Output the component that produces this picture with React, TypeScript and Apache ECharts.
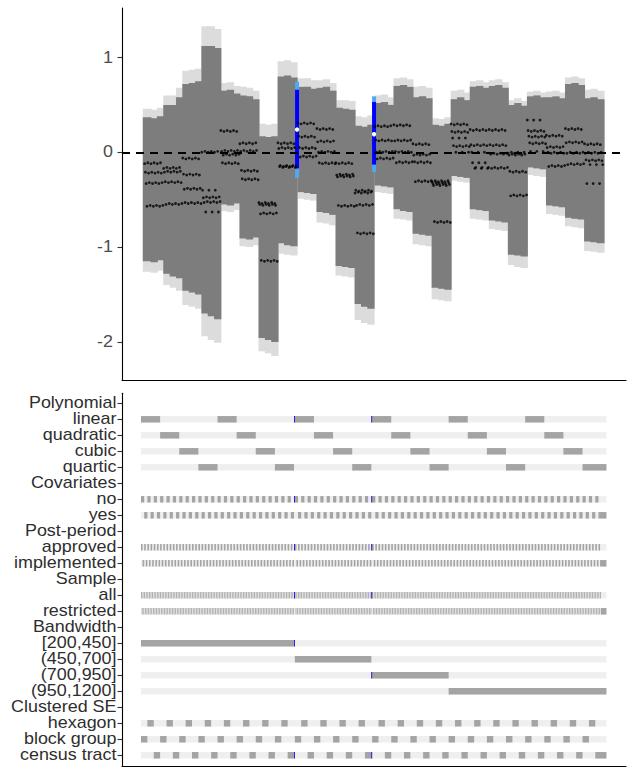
import React, { useEffect, useRef } from "react";
import * as echarts from "echarts";

// ---------- categories ----------
const ROW_LABELS = [
  "Polynomial", "linear", "quadratic", "cubic", "quartic",
  "Covariates", "no", "yes",
  "Post-period", "approved", "implemented",
  "Sample", "all", "restricted",
  "Bandwidth", "[200,450]", "(450,700]", "(700,950]", "(950,1200]",
  "Clustered SE", "hexagon", "block group", "census tract",
];
const HEADER_ROWS = [0, 5, 8, 11, 14, 19];
const POLY_ROWS = [1, 2, 3, 4];
const COV_ROWS = [6, 7];
const POST_ROWS = [9, 10];
const SAMPLE_ROWS = [12, 13];
// clustered SE order inside each polynomial block: block group, hexagon, census tract
const SE_ROWS = [21, 20, 22];
// bandwidth category of each of the six bandwidth blocks
const BW_BLOCK_ROW = [15, 15, 16, 17, 18, 18];
const Y_TICKS = [-2, -1, 0, 1];

// ---------- estimates: 24 polynomial blocks x 8 (cov x post x sample) ----------
const ESTIMATES: number[][] = [
  [-0.12, -0.21, -0.33, -0.57, -0.11, -0.22, -0.32, -0.56],
  [-0.17, -0.21, -0.31, -0.55, -0.16, -0.2, -0.32, -0.54],
  [-0.06, -0.23, -0.39, -0.53, -0.07, -0.24, -0.38, -0.54],
  [0.0, -0.4, -0.48, -0.53, 0.01, -0.63, -0.47, -0.52],
  [0.23, 0.01, -0.11, -0.03, 0.22, 0.02, -0.12, -0.02],
  [0.09, 0.01, -0.19, -0.28, 0.1, 0.02, -0.2, -0.29],
  [-0.53, -0.55, -0.65, -1.14, -0.54, -0.56, -0.64, -1.15],
  [0.1, 0.04, -0.15, -0.14, 0.09, 0.05, -0.16, -0.15],
  [0.31, 0.17, 0.05, -0.05, 0.3, 0.16, 0.04, -0.04],
  [0.25, 0.11, 0.0, -0.11, 0.24, 0.12, 0.01, -0.12],
  [-0.11, -0.24, -0.26, -0.56, -0.12, -0.23, -0.25, -0.57],
  [-0.43, -0.4, -0.56, -0.85, -0.42, -0.41, -0.55, -0.86],
  [0.27, 0.13, 0.0, -0.07, 0.28, 0.12, 0.01, -0.06],
  [0.29, 0.12, 0.01, -0.11, 0.28, 0.13, 0.0, -0.1],
  [0.09, -0.03, -0.1, -0.31, 0.08, -0.02, -0.11, -0.3],
  [-0.31, -0.33, -0.35, -0.73, -0.3, -0.32, -0.34, -0.74],
  [0.3, 0.22, 0.15, 0.07, 0.29, 0.21, 0.0, 0.06],
  [0.24, 0.08, 0.0, -0.11, 0.23, 0.07, -0.17, -0.16],
  [0.24, 0.08, -0.02, -0.17, 0.23, 0.07, -0.01, -0.16],
  [-0.01, -0.03, -0.2, -0.46, 0.0, -0.02, -0.21, -0.45],
  [0.34, 0.23, 0.17, 0.1, 0.01, 0.22, 0.16, 0.09],
  [0.18, 0.05, 0.0, -0.15, 0.17, 0.06, -0.01, -0.14],
  [0.25, 0.1, -0.01, -0.13, 0.24, 0.11, 0.0, -0.12],
  [0.09, -0.01, -0.08, -0.33, 0.08, 0.0, -0.09, -0.13],
];

// ---------- confidence bands: 24 blocks x 3 clustered-SE sub-blocks ----------
const DARK_HI: number[][] = [
  [0.37, 0.36, 0.38], [0.5, 0.5, 0.58], [0.72, 0.73, 0.75], [1.12, 1.12, 1.1],
  [0.65, 0.66, 0.62], [0.6, 0.59, 0.56], [0.17, 0.16, 0.17], [0.8, 0.81, 0.79],
  [0.69, 0.69, 0.67], [0.68, 0.69, 0.65], [0.47, 0.46, 0.45], [0.28, 0.27, 0.29],
  [0.52, 0.53, 0.5], [0.7, 0.71, 0.69], [0.58, 0.59, 0.57], [0.29, 0.28, 0.3],
  [0.56, 0.58, 0.55], [0.69, 0.7, 0.68], [0.7, 0.71, 0.68], [0.5, 0.52, 0.49],
  [0.59, 0.6, 0.58], [0.58, 0.59, 0.57], [0.72, 0.73, 0.71], [0.57, 0.58, 0.56],
];
const LIGHT_HI: number[][] = [
  [0.46, 0.45, 0.47], [0.6, 0.6, 0.68], [0.86, 0.87, 0.88], [1.33, 1.33, 1.3],
  [0.73, 0.74, 0.7], [0.69, 0.68, 0.65], [0.3, 0.29, 0.3], [0.96, 0.97, 0.95],
  [0.78, 0.78, 0.76], [0.76, 0.77, 0.73], [0.55, 0.55, 0.54], [0.38, 0.37, 0.39],
  [0.6, 0.61, 0.58], [0.78, 0.79, 0.77], [0.69, 0.7, 0.68], [0.36, 0.35, 0.37],
  [0.65, 0.66, 0.63], [0.75, 0.76, 0.74], [0.76, 0.77, 0.74], [0.55, 0.57, 0.54],
  [0.64, 0.65, 0.63], [0.64, 0.65, 0.63], [0.79, 0.8, 0.78], [0.66, 0.67, 0.65],
];
const DARK_LO: number[][] = [
  [-1.15, -1.16, -1.14], [-1.28, -1.31, -1.33], [-1.46, -1.48, -1.5], [-1.7, -1.73, -1.76],
  [-0.55, -0.56, -0.54], [-0.91, -0.92, -0.9], [-1.96, -1.98, -2.0], [-0.96, -0.98, -0.99],
  [-0.42, -0.43, -0.44], [-0.63, -0.64, -0.66], [-1.2, -1.21, -1.22], [-1.6, -1.63, -1.65],
  [-0.35, -0.36, -0.37], [-0.6, -0.62, -0.63], [-0.86, -0.87, -0.88], [-1.43, -1.44, -1.45],
  [-0.25, -0.26, -0.27], [-0.6, -0.61, -0.62], [-0.72, -0.73, -0.74], [-1.08, -1.09, -1.1],
  [-0.16, -0.17, -0.18], [-0.56, -0.57, -0.58], [-0.69, -0.7, -0.71], [-0.94, -0.95, -0.96],
];
const LIGHT_LO: number[][] = [
  [-1.26, -1.27, -1.25], [-1.4, -1.43, -1.46], [-1.61, -1.63, -1.65], [-1.94, -1.98, -2.01],
  [-0.62, -0.63, -0.61], [-0.99, -1.0, -0.98], [-2.1, -2.12, -2.15], [-1.07, -1.08, -1.09],
  [-0.49, -0.5, -0.51], [-0.74, -0.75, -0.77], [-1.3, -1.31, -1.32], [-1.77, -1.8, -1.82],
  [-0.42, -0.43, -0.44], [-0.7, -0.71, -0.72], [-0.97, -0.98, -0.99], [-1.55, -1.56, -1.57],
  [-0.3, -0.31, -0.32], [-0.7, -0.71, -0.72], [-0.81, -0.82, -0.83], [-1.19, -1.21, -1.22],
  [-0.24, -0.25, -0.26], [-0.65, -0.66, -0.67], [-0.78, -0.79, -0.8], [-1.04, -1.05, -1.06],
];

// ---------- highlighted specifications (blue) ----------
const HIGHLIGHT_BEFORE_BW_BLOCK = [2, 3];
const HIGHLIGHT_BW_ROW = [15, 17];
const HIGHLIGHT_EST = [0.24, 0.19];
const HIGHLIGHT_DARK_LO = [-0.17, -0.13];
const HIGHLIGHT_DARK_HI = [0.66, 0.53];
const HIGHLIGHT_LIGHT_LO = [-0.27, -0.21];
const HIGHLIGHT_LIGHT_HI = [0.745, 0.59];

// ---------- styling ----------
const C_DARK = "#7d7d7d";
const C_LIGHT = "#dcdcdc";
const C_TILE = "#a4a4a4";
const C_TILE_BG = "#efefef";
const C_BLUE = "#0000ff";
const C_BLUE_LIGHT = "#4fa8f2";
const LAST_TILE_WIDTH = 7;
const FONT = "'Liberation Sans', Arial, sans-serif";
const TEXT_STRETCH = 1.12;

type Spec = { slot: number; rows: number[]; est: number; blue: number };

function buildData() {
  const specs: Spec[] = [];
  const subBlocks: number[][] = []; // [startSlot, endSlot, dLo, dHi, lLo, lHi]
  let slot = 0;
  for (let b = 0; b < 6; b++) {
    const h = HIGHLIGHT_BEFORE_BW_BLOCK.indexOf(b);
    if (h >= 0) {
      specs.push({ slot: slot++, rows: [POLY_ROWS[0], COV_ROWS[0], POST_ROWS[0], SAMPLE_ROWS[0], HIGHLIGHT_BW_ROW[h], SE_ROWS[2]], est: HIGHLIGHT_EST[h], blue: h });
    }
    for (let p = 0; p < 4; p++) {
      const k = b * 4 + p;
      for (let s = 0; s < 3; s++) {
        const start = slot;
        for (let c = 0; c < 2; c++)
          for (let q = 0; q < 2; q++)
            for (let m = 0; m < 2; m++) {
              specs.push({
                slot: slot++,
                rows: [POLY_ROWS[p], COV_ROWS[c], POST_ROWS[q], SAMPLE_ROWS[m], BW_BLOCK_ROW[b], SE_ROWS[s]],
                est: ESTIMATES[k][c * 4 + q * 2 + m],
                blue: -1,
              });
            }
        subBlocks.push([start, slot, DARK_LO[k][s], DARK_HI[k][s], LIGHT_LO[k][s], LIGHT_HI[k][s]]);
      }
    }
  }
  return { specs, subBlocks, total: slot };
}

function rectItem(api: any, x0: number, x1: number, lo: number, hi: number, fill: string) {
  const a = api.coord([x0, hi]);
  const b = api.coord([x1, lo]);
  return { type: "rect", shape: { x: a[0], y: a[1], width: b[0] - a[0], height: b[1] - a[1] }, style: { fill } };
}

function buildOption() {
  const { specs, subBlocks, total } = buildData();
  const lastEnd = total - 1 + LAST_TILE_WIDTH;

  // top panel geometry (spec centres at integer slots)
  const topX0 = 144.6, topStep = 0.794;
  const topXMin = (122 - topX0) / topStep;
  const topXMax = (626 - topX0) / topStep;
  // bottom panel geometry (tile left edges at integer slots)
  const botX0 = 141, botStep = 0.797;
  const botXMin = (122 - botX0) / botStep;
  const botXMax = (626 - botX0) / botStep;

  const bandData = subBlocks.map((sb, i) => {
    const first = i === 0;
    const last = i === subBlocks.length - 1;
    return [sb[0] - 0.5 - (first ? 1.8 : 0), sb[1] - 0.5 + (last ? 1.8 : 1.2), sb[2], sb[3], sb[4], sb[5]];
  });

  const dots = specs.filter((s) => s.blue < 0).map((s) => [s.slot, s.est]);
  const blueData = specs.filter((s) => s.blue >= 0).map((s) => [
    s.slot, HIGHLIGHT_DARK_LO[s.blue], HIGHLIGHT_DARK_HI[s.blue], HIGHLIGHT_LIGHT_LO[s.blue], HIGHLIGHT_LIGHT_HI[s.blue], s.est,
  ]);

  // bottom panel tiles
  const bgData: number[][] = [];
  const tileData: number[][] = [];
  const blueTiles: number[][] = [];
  for (let r = 0; r < ROW_LABELS.length; r++) {
    if (HEADER_ROWS.includes(r)) continue;
    bgData.push([0, lastEnd, r]);
    let runStart = -1;
    let runEnd = -1;
    specs.forEach((s, idx) => {
      const on = s.rows.includes(r);
      const end = idx === specs.length - 1 ? s.slot + LAST_TILE_WIDTH : s.slot + 1;
      if (on) {
        if (runStart < 0) runStart = s.slot;
        runEnd = end;
        if (s.blue >= 0) blueTiles.push([s.slot, s.slot + 1, r]);
      } else if (runStart >= 0) {
        tileData.push([runStart, runEnd, r]);
        runStart = -1;
      }
    });
    if (runStart >= 0) tileData.push([runStart, runEnd, r]);
  }

  const tileRender = (fill: string, h: number) => (params: any, api: any) => {
    const x0 = api.value(0), x1 = api.value(1), r = api.value(2);
    const a = api.coord([x0, r]);
    const b = api.coord([x1, r]);
    return { type: "rect", shape: { x: a[0], y: a[1] - h / 2, width: b[0] - a[0], height: h }, style: { fill } };
  };

  const labelRender = (texts: (v: number) => string, gap: number, size: number, color: string) => (params: any, api: any) => {
    const p = api.coord([api.value(0), api.value(1)]);
    return {
      type: "text",
      x: p[0] - gap,
      y: p[1],
      scaleX: TEXT_STRETCH,
      style: { text: texts(api.value(1)), fontSize: size, fontFamily: FONT, fill: color, align: "right", verticalAlign: "middle" },
    };
  };

  const axisLineStyle = { color: "#000", width: 1.1 };
  const rowIdx = ROW_LABELS.map((_, i) => i);

  return {
    animation: false,
    textStyle: { fontFamily: FONT },
    grid: [
      { left: 122, top: 8, width: 504, height: 372 },
      { left: 122, top: 393.3, width: 504, height: 372.7 },
    ],
    xAxis: [
      {
        gridIndex: 0, type: "value", min: topXMin, max: topXMax,
        axisLine: { show: true, onZero: false, lineStyle: axisLineStyle },
        axisTick: { show: false }, axisLabel: { show: false }, splitLine: { show: false },
      },
      {
        gridIndex: 1, type: "value", min: botXMin, max: botXMax,
        axisLine: { show: true, onZero: false, lineStyle: axisLineStyle },
        axisTick: { show: false }, axisLabel: { show: false }, splitLine: { show: false },
      },
    ],
    yAxis: [
      {
        gridIndex: 0, type: "value", min: -2.402, max: 1.522,
        axisLine: { show: true, onZero: false, lineStyle: axisLineStyle },
        axisTick: { show: true, length: 4.5, customValues: Y_TICKS, lineStyle: { color: "#333", width: 1.1 } },
        axisLabel: { show: false },
        splitLine: { show: false },
      },
      {
        gridIndex: 1, type: "value", inverse: true, min: -0.625, max: 22.67,
        axisLine: { show: true, onZero: false, lineStyle: axisLineStyle },
        axisTick: { show: true, length: 4.5, customValues: rowIdx, lineStyle: { color: "#333", width: 1.1 } },
        axisLabel: { show: false },
        splitLine: { show: false },
      },
    ],
    series: [
      {
        type: "custom", xAxisIndex: 0, yAxisIndex: 0, clip: false, silent: true,
        data: bandData,
        renderItem: (p: any, api: any) => rectItem(api, api.value(0), api.value(1), api.value(4), api.value(5), C_LIGHT),
      },
      {
        type: "custom", xAxisIndex: 0, yAxisIndex: 0, clip: false, silent: true,
        data: bandData,
        renderItem: (p: any, api: any) => rectItem(api, api.value(0), api.value(1), api.value(2), api.value(3), C_DARK),
      },
      {
        type: "scatter", xAxisIndex: 0, yAxisIndex: 0, silent: true,
        symbol: "circle", symbolSize: 2.8, itemStyle: { color: "#000" },
        data: dots,
        markLine: {
          silent: true, symbol: ["none", "none"], label: { show: false },
          lineStyle: { color: "#000", type: [8, 6], width: 2 },
          data: [{ yAxis: 0 }],
        },
      },
      {
        type: "custom", xAxisIndex: 0, yAxisIndex: 0, clip: false, silent: true,
        data: blueData,
        renderItem: (p: any, api: any) => {
          const x = api.value(0);
          const c = api.coord([x, 0])[0];
          const w = 4;
          const yl0 = api.coord([x, api.value(4)])[1];
          const yl1 = api.coord([x, api.value(3)])[1];
          const yd0 = api.coord([x, api.value(2)])[1];
          const yd1 = api.coord([x, api.value(1)])[1];
          const pe = api.coord([x, api.value(5)]);
          return {
            type: "group",
            children: [
              { type: "rect", shape: { x: c - w / 2, y: yl0, width: w, height: yl1 - yl0 }, style: { fill: C_BLUE_LIGHT } },
              { type: "rect", shape: { x: c - w / 2, y: yd0, width: w, height: yd1 - yd0 }, style: { fill: C_BLUE } },
              { type: "circle", shape: { cx: pe[0], cy: pe[1], r: 2.2 }, style: { fill: "#fff" } },
            ],
          };
        },
      },
      {
        type: "custom", xAxisIndex: 0, yAxisIndex: 0, clip: false, silent: true,
        data: Y_TICKS.map((v) => [topXMin, v]),
        renderItem: labelRender((v) => String(v), 9, 16, "#4d4d4d"),
      },
      {
        type: "custom", xAxisIndex: 1, yAxisIndex: 1, clip: false, silent: true,
        data: bgData, renderItem: tileRender(C_TILE_BG, 6.5),
      },
      {
        type: "custom", xAxisIndex: 1, yAxisIndex: 1, clip: false, silent: true,
        data: tileData, renderItem: tileRender(C_TILE, 6.5),
      },
      {
        type: "custom", xAxisIndex: 1, yAxisIndex: 1, clip: false, silent: true,
        data: blueTiles, renderItem: tileRender(C_BLUE, 6.5),
      },
      {
        type: "custom", xAxisIndex: 1, yAxisIndex: 1, clip: false, silent: true,
        data: rowIdx.map((i) => [botXMin, i]),
        renderItem: labelRender((v) => ROW_LABELS[Math.round(v)], 5.5, 16, "#2e2e2e"),
      },
    ],
  };
}

export default function App() {
  const ref = useRef<HTMLDivElement>(null);
  useEffect(() => {
    if (!ref.current) return;
    const chart = echarts.init(ref.current, null, { renderer: "svg" });
    chart.setOption(buildOption() as any);
    return () => chart.dispose();
  }, []);
  return <div ref={ref} style={{ position: "absolute", left: 0, top: 0, width: 628, height: 769 }} />;
}
